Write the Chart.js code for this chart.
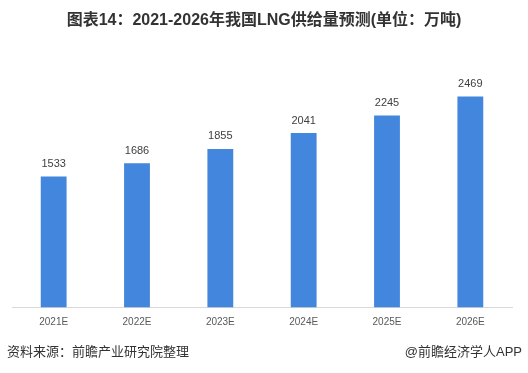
<!DOCTYPE html>
<html>
<head>
<meta charset="utf-8">
<script src="https://cdn.jsdelivr.net/npm/chart.js@4/dist/chart.umd.min.js"></script>
<style>
  html, body { margin: 0; padding: 0; background: #fff; }
  body { width: 528px; height: 373px; position: relative; overflow: hidden;
    font-family: 'Liberation Sans', 'Noto Sans CJK SC', sans-serif; }
  #title { position: absolute; left: 0; width: 528px; top: 10px; text-align: center;
    font-size: 16px; font-weight: bold; color: #333; line-height: 20px; }
  #source { position: absolute; left: 7px; top: 344px; font-size: 13px; color: #333; line-height: 16px; }
  #brand { position: absolute; right: 6px; top: 344px; font-size: 13px; color: #333; line-height: 16px; }
  #wrap { position: absolute; left: 0; top: 0; width: 528px; height: 373px; }
</style>
</head>
<body>
<div id="wrap"><canvas id="chart"></canvas></div>
<div id="title">图表14：2021-2026年我国LNG供给量预测(单位：万吨)</div>
<div id="source">资料来源：前瞻产业研究院整理</div>
<div id="brand">@前瞻经济学人APP</div>
<script>
const years = ['2021E', '2022E', '2023E', '2024E', '2025E', '2026E'];
const supply = [1533, 1686, 1855, 2041, 2245, 2469];

// подписи значений над столбцами
const barLabels = {
  id: 'barLabels',
  afterDatasetsDraw(chart) {
    const { ctx } = chart;
    const meta = chart.getDatasetMeta(0);
    ctx.save();
    ctx.font = "11px 'Liberation Sans', sans-serif";
    ctx.fillStyle = '#404040';
    ctx.textAlign = 'center';
    ctx.textBaseline = 'bottom';
    meta.data.forEach((bar, i) => {
      ctx.fillText(supply[i], bar.x, bar.y - 7);
    });
    ctx.restore();
  },
};

new Chart(document.getElementById('chart'), {
  type: 'bar',
  data: {
    labels: years,
    datasets: [
      {
        data: supply,
        backgroundColor: '#4386dd',
        barPercentage: 0.62,
        categoryPercentage: 0.5,
      },
    ],
  },
  options: {
    responsive: true,
    maintainAspectRatio: false,
    animation: false,
    layout: {
      padding: { left: 12, right: 16, top: 51, bottom: 35.5 },
    },
    plugins: {
      legend: { display: false },
      tooltip: { enabled: false },
    },
    scales: {
      x: {
        grid: { display: false, drawTicks: false },
        border: { display: true, color: '#d9d9d9', width: 1 },
        ticks: {
          padding: 9,
          color: '#595959',
          font: { family: "'Liberation Sans', sans-serif", size: 10 },
        },
      },
      y: {
        display: false,
        min: 0,
        max: 3000,
      },
    },
  },
  plugins: [barLabels],
});
</script>
</body>
</html>
